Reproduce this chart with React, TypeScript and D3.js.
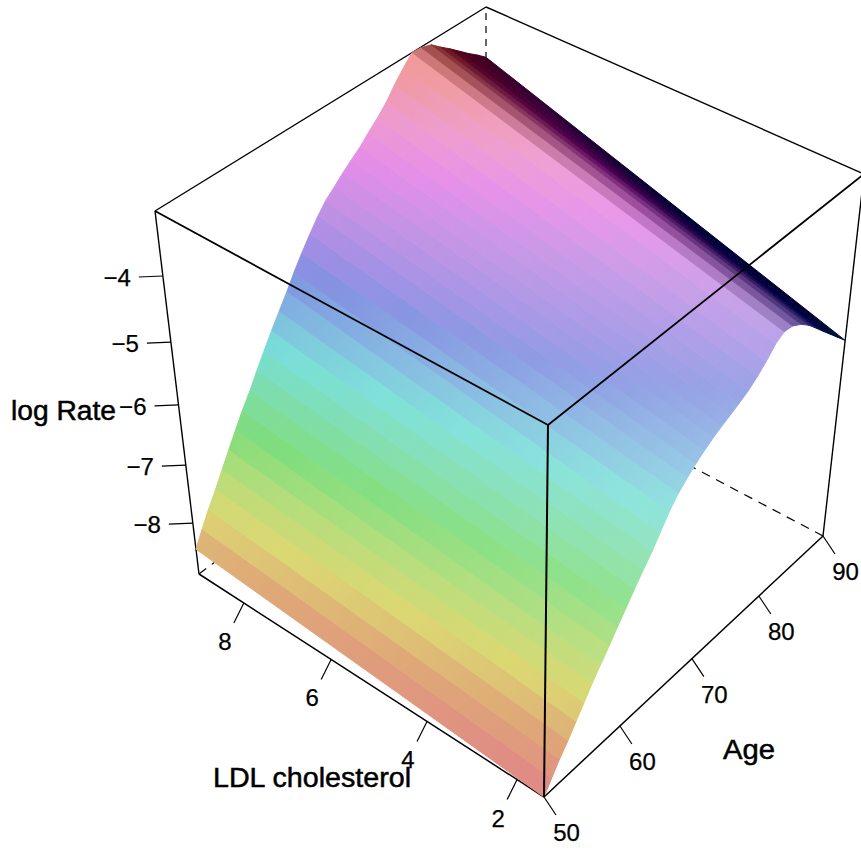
import React from "react";
import * as d3 from "d3";

const ages = [50,51,52,53.1,54.1,55.1,56.1,57.1,58.2,59.2,60.2,61.3,62.4,63.5,64.5,65.6,66.7,67.8,68.8,69.9,71.1,72.2,73.4,74.5,75.7,76.9,78,79.2,80.3,81.5,82.8,84,85.2,86.4,87.6,88.8,90];
const logRateHighLDL = [-8.45,-8.2,-7.96,-7.72,-7.48,-7.24,-7,-6.77,-6.54,-6.3,-6.07,-5.84,-5.62,-5.4,-5.18,-4.96,-4.76,-4.57,-4.42,-4.3,-4.17,-4.06,-3.95,-3.82,-3.69,-3.54,-3.36,-3.19,-3.05,-3.06,-3.11,-3.23,-3.34,-3.46,-3.58,-3.69,-3.81];
const logRateLowLDL = [-8.88,-8.68,-8.48,-8.29,-8.09,-7.89,-7.69,-7.5,-7.3,-7.1,-6.91,-6.71,-6.52,-6.33,-6.13,-5.91,-5.74,-5.61,-5.5,-5.4,-5.31,-5.24,-5.17,-5.1,-5.02,-4.91,-4.79,-4.63,-4.55,-4.57,-4.66,-4.78,-4.93,-5.09,-5.25,-5.41,-5.57];
const bandDark = [0,0,0,0,0,0,0,0,0,0,0,0,0,0,0,0,0,0,0,0,0,0,0,0,0,0,0,0,35,75,105,130,150,165,172,178];
const colorZ = [-8.88,-8.45,-8,-7.5,-7,-6.5,-6.03,-5.63,-5.2,-4.88,-4.5,-4.05,-3.7,-3.2,-3.05];
const colorHex = ["#e08c84","#dfa877","#dcd873","#b5dd7a","#7edd7a","#7cddaa","#78dfd8","#80b8e0","#8090e0","#a08ee4","#c090e4","#e68ce8","#ee9ad0","#f09a9a","#f09a9a"];
const zTicks = [-4,-5,-6,-7,-8];
const ldlTicks = [2,4,6,8];
const ageTicks = [50,60,70,80,90];

const W = 861, H = 854;
const ageScale = d3.scaleLinear().domain([50,60,70,80,90]).range([0,.272,.53,.77,1]);
const ldlScale = d3.scaleLinear().domain([1.4,2,4,6,8,9]).range([0,.078,.339,.617,.87,1]);
const zScale = d3.scaleLinear().domain([-8.88,-8,-7,-6,-5,-4,-3.05]).range([0,.14,.3,.466,.639,.821,1]);
const colorScale = d3.scaleLinear<string>().domain(colorZ).range(colorHex).interpolate(d3.interpolateRgb).clamp(true);

const C: [number,number][][][] = [
  [[[544,797],[548,425]],[[199,574],[155,211]]],
  [[[823,536],[864,174]],[[486,358],[486,7]]],
];
function proj(age:number, ldl:number, z:number):[number,number]{
  const t=ageScale(age),u=ldlScale(ldl),v=zScale(z);
  const f=(k:0|1)=>{
    const a=C[0][0][0][k]*(1-v)+C[0][0][1][k]*v;
    const b=C[0][1][0][k]*(1-v)+C[0][1][1][k]*v;
    const c=C[1][0][0][k]*(1-v)+C[1][0][1][k]*v;
    const d=C[1][1][0][k]*(1-v)+C[1][1][1][k]*v;
    return (a*(1-u)+b*u)*(1-t)+(c*(1-u)+d*u)*t;
  };
  return [f(0),f(1)];
}
const aMin=50,aMax=90,lMin=1.4,lMax=9,zMin=-8.88,zMax=-3.05;
const line=d3.line();
const paleByZ=d3.scaleLinear().domain([-7.8,-6.6]).range([0,.18]).clamp(true);
const NS=14;
function bandColor(z:number,f:number,dark:number){
  const zz=z-0.15*(1-f);
  const c=d3.rgb(colorScale(zz));
  const m=paleByZ(z)*(1-f);
  const ch=(x:number)=>Math.max(0,Math.min(255,x+(255-x)*m-dark));
  return d3.rgb(ch(c.r),ch(c.g),ch(c.b)).formatHex();
}
function bands(){
  return d3.range(ages.length-1).map(i=>{
    const zf=(k:number,f:number)=>logRateLowLDL[k]+(logRateHighLDL[k]-logRateLowLDL[k])*f;
    const pts=[proj(ages[i],lMin,zf(i,0)),proj(ages[i],lMax,zf(i,1)),proj(ages[i+1],lMax,zf(i+1,1)),proj(ages[i+1],lMin,zf(i+1,0))];
    const a=[(pts[0][0]+pts[3][0])/2,(pts[0][1]+pts[3][1])/2];
    const b=[(pts[1][0]+pts[2][0])/2,(pts[1][1]+pts[2][1])/2];
    const stops=d3.range(NS+1).map(j=>{
      const f=j/NS;
      return {o:f,c:bandColor((zf(i,f)+zf(i+1,f))/2,f,bandDark[i])};
    });
    return {i,d:line(pts)+"Z",a,b,stops};
  });
}
const seg=(a:[number,number],b:[number,number],p:any={})=>(<line x1={a[0]} y1={a[1]} x2={b[0]} y2={b[1]} stroke="#000" strokeWidth={1.4} {...p}/>);
const font="'Liberation Sans', Arial, sans-serif";

export default function App(){
  const P=(a:number,l:number,z:number)=>proj(a,l,z);
  const bs=bands();
  return (
    <svg width={W} height={H} style={{position:"absolute",left:0,top:0,background:"#fff"}} fontFamily={font}>
      <defs>
        {bs.map(b=><linearGradient key={b.i} id={"b"+b.i} gradientUnits="userSpaceOnUse" x1={b.a[0]} y1={b.a[1]} x2={b.b[0]} y2={b.b[1]}>
          {b.stops.map((s,j)=><stop key={j} offset={s.o} stopColor={s.c}/>)}
        </linearGradient>)}
      </defs>
      {seg(P(aMax,lMax,zMin),P(aMax,lMax,zMax),{strokeDasharray:"7 6",strokeWidth:1.2})}
      {seg(P(aMax,lMin,zMin),P(aMax,lMax,zMin),{strokeDasharray:"9 7",strokeWidth:1.2})}
      {seg(P(aMin,lMax,zMin),P(aMax,lMax,zMin),{strokeDasharray:"9 7",strokeWidth:1.2})}
      {seg(P(aMin,lMax,zMax),P(aMax,lMax,zMax))}
      {seg(P(aMax,lMax,zMax),P(aMax,lMin,zMax))}
      {seg(P(aMin,lMax,zMin),P(aMin,lMax,zMax))}
      {seg(P(aMax,lMin,zMin),P(aMax,lMin,zMax))}
      {seg(P(aMin,lMin,zMin),P(aMin,lMax,zMin),{strokeWidth:1.5})}
      {seg(P(aMin,lMin,zMin),P(aMax,lMin,zMin),{strokeWidth:1.5})}
      <g>
        {bs.map(b=><path key={b.i} d={b.d} fill={`url(#b${b.i})`} stroke={`url(#b${b.i})`} strokeWidth={1} strokeLinejoin="round"/>)}
      </g>
      {seg(P(aMin,lMin,zMax),P(aMin,lMax,zMax),{strokeWidth:1.8})}
      {seg(P(aMin,lMin,zMax),P(aMax,lMin,zMax),{strokeWidth:1.8})}
      {seg(P(aMin,lMin,zMin),P(aMin,lMin,zMax),{strokeWidth:2})}
      {zTicks.map(z=>{const p=P(aMin,lMax,z);return <g key={z}>
        {seg(p,[p[0]-24,p[1]+1],{strokeWidth:1.2})}
        <text x={p[0]-32} y={p[1]+10} textAnchor="end" fontSize={24} fill="#000" stroke="#000" strokeWidth={0.25}>{"\u2212"+Math.abs(z)}</text>
      </g>})}
      {ldlTicks.map(l=>{const p=P(aMin,l,zMin);return <g key={l}>
        {seg(p,[p[0]-10,p[1]+20],{strokeWidth:1.2})}
        <text x={p[0]-19} y={p[1]+47} textAnchor="middle" fontSize={24} fill="#000" stroke="#000" strokeWidth={0.25}>{l}</text>
      </g>})}
      {ageTicks.map(a=>{const p=P(a,lMin,zMin);return <g key={a}>
        {seg(p,[p[0]+12,p[1]+18],{strokeWidth:1.2})}
        <text x={p[0]+22.5} y={p[1]+44} textAnchor="middle" fontSize={24} fill="#000" stroke="#000" strokeWidth={0.25}>{a}</text>
      </g>})}
      <text x={11} y={420} fontSize={27} textLength={105} lengthAdjust="spacingAndGlyphs" stroke="#000" strokeWidth={0.5} fill="#000">log Rate</text>
      <text x={213} y={787} fontSize={27} textLength={198} lengthAdjust="spacingAndGlyphs" stroke="#000" strokeWidth={0.5} fill="#000">LDL cholesterol</text>
      <text x={723} y={759} fontSize={27} textLength={52} lengthAdjust="spacingAndGlyphs" stroke="#000" strokeWidth={0.5} fill="#000">Age</text>
    </svg>
  );
}
